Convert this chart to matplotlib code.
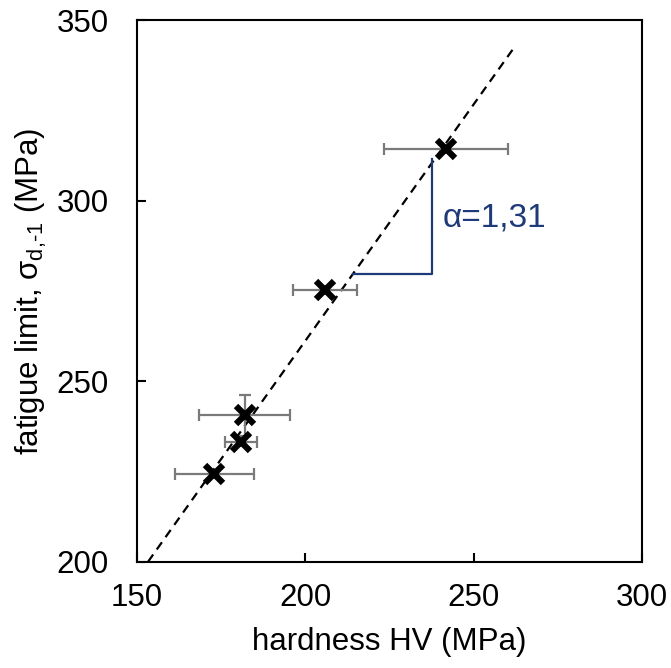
import numpy as np
import matplotlib
matplotlib.use("Agg")
import matplotlib.pyplot as plt

plt.rcParams['font.family'] = ['Liberation Sans', 'DejaVu Sans']
plt.rcParams['mathtext.fontset'] = 'custom'
plt.rcParams['mathtext.rm'] = 'Liberation Sans'
plt.rcParams['mathtext.it'] = 'Liberation Sans'

# measured data
hardness = [173.0, 181.0, 182.0, 205.8, 241.8]
fatigue = [224.3, 233.2, 240.6, 275.3, 314.2]
hardness_err = [11.7, 4.8, 13.6, 9.4, 18.5]
fatigue_err = [0.0, 0.0, 5.7, 0.0, 0.0]

# linear trend
slope = 1.31
fit_x = [153.3, 261.5]

# slope triangle
tri_x = [214.1, 237.6, 237.6]
tri_y = [279.8, 279.8, 311.6]

fig = plt.figure(figsize=(6.71, 6.68), dpi=100)
ax = fig.add_axes([0.204, 0.159, 0.753, 0.811])

fit_y = [200 + slope * (x - fit_x[0]) for x in fit_x]
ax.plot(fit_x, fit_y, color="black", lw=1.6, ls=(0, (4, 2.8)), zorder=2)

ax.errorbar(hardness, fatigue, xerr=hardness_err, yerr=fatigue_err, fmt="none",
            ecolor="#7a7a7a", elinewidth=1.6, capsize=4, capthick=1.6, zorder=3)
ax.plot(hardness, fatigue, ls="none", marker="x", color="black",
        markersize=12.5, mew=4.5, zorder=4)

ax.plot(tri_x, tri_y, color="#1f3a78", lw=1.6, zorder=2)
ax.text(240.8, 295.3, "α=1,31", color="#1f3a78", fontsize=24, va="center", ha="left")

ax.set_xlim(150, 300)
ax.set_ylim(200, 350)
ax.set_xticks([150, 200, 250, 300])
ax.set_yticks([200, 250, 300, 350])
ax.tick_params(direction="in", length=6.5, width=1.5, labelsize=22.5)
ax.tick_params(axis="x", pad=15)
ax.tick_params(axis="y", pad=20)
for s in ax.spines.values():
    s.set_linewidth(1.5)

ax.set_xlabel("hardness HV (MPa)", fontsize=22.5, labelpad=10)
ax.set_ylabel(r"fatigue limit, σ$_{\text{d,-1}}$ (MPa)", fontsize=22.5, labelpad=6)

fig.savefig("out.png", dpi=100)
